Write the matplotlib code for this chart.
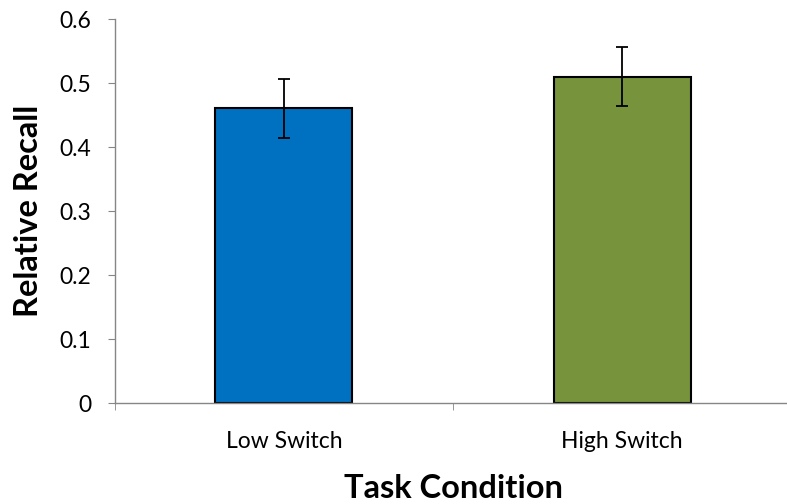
import matplotlib
matplotlib.use("Agg")
import matplotlib.pyplot as plt

categories = ["Low Switch", "High Switch"]
values = [0.461, 0.510]
errors = [0.046, 0.046]
colors = ["#0070C0", "#77933C"]
yticks = [0, 0.1, 0.2, 0.3, 0.4, 0.5, 0.6]
ytick_labels = ["0", "0.1", "0.2", "0.3", "0.4", "0.5", "0.6"]

plt.rcParams['font.family'] = ['Lato', 'DejaVu Sans']

fig = plt.figure(figsize=(7.87, 5.04), dpi=100)
ax = fig.add_axes([0.1457, 0.1998, 0.86, 0.7619])
x = list(range(len(categories)))
ax.bar(x, values, width=0.405, color=colors, edgecolor="black", linewidth=1.5, zorder=2)
ax.errorbar(x, values, yerr=errors, fmt="none", ecolor="black", elinewidth=1.3,
            capsize=4.5, capthick=1.3, zorder=3)

ax.set_xlim(-0.5, 1.5)
ax.set_ylim(0, 0.6)
ax.set_yticks(yticks)
ax.set_yticklabels(ytick_labels, fontsize=16.5)
ax.set_xticks(x)
ax.set_xticklabels(categories, fontsize=16.5)
ax.tick_params(axis="x", which="major", length=0, pad=20)
ax.set_xticks([-0.5, 0.5, 1.5], minor=True)
ax.tick_params(axis="x", which="minor", length=5, color="#868686", direction="out")
ax.tick_params(axis="y", length=5, color="#868686", direction="out", pad=12)

for s in ["top", "right"]:
    ax.spines[s].set_visible(False)
for s in ["left", "bottom"]:
    ax.spines[s].set_color("#868686")
    ax.spines[s].set_linewidth(1.0)

ax.set_ylabel("Relative Recall", fontsize=23.5, fontweight="bold", labelpad=12)
ax.set_xlabel("Task Condition", fontsize=23.5, fontweight="bold", labelpad=16)

fig.savefig("out.png", dpi=100)
